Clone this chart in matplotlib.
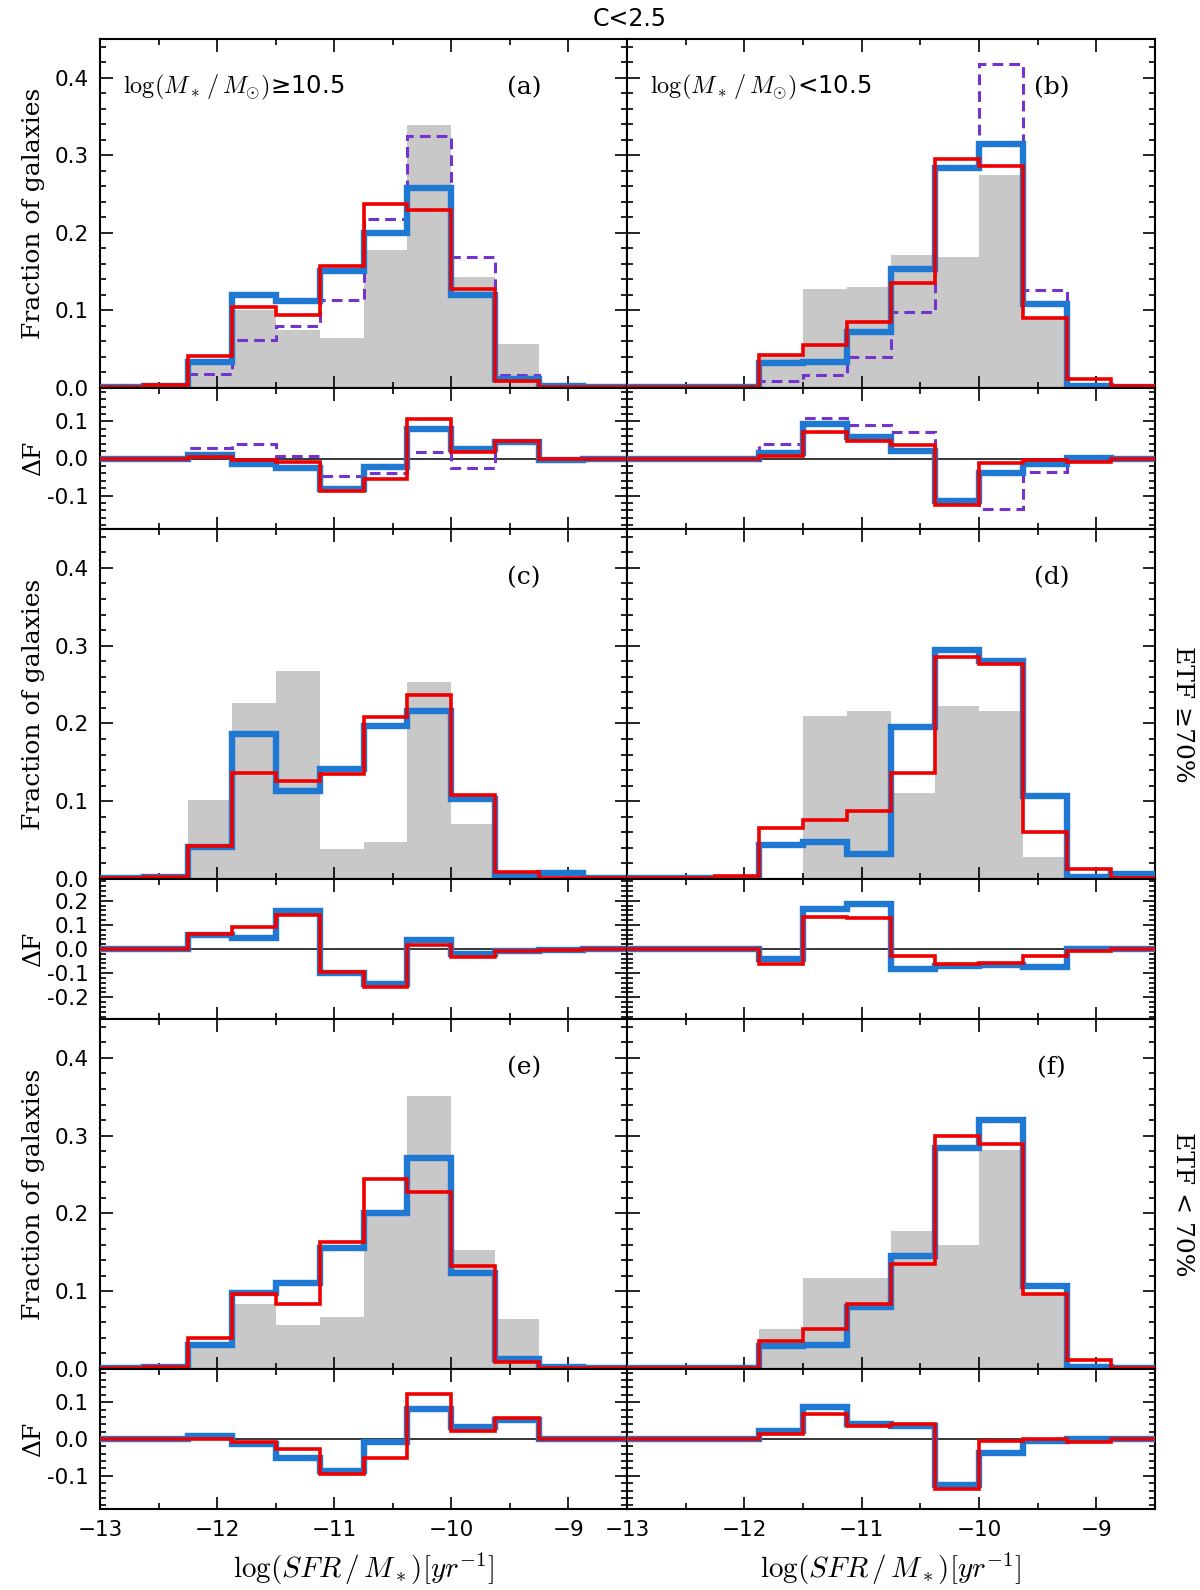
import numpy as np
import matplotlib
matplotlib.use('Agg')
import matplotlib.pyplot as plt
from matplotlib.ticker import MultipleLocator

# bin edges of log(SFR/M*)
edges = np.linspace(-13, -8.5, 13)

# panel (a): log M >= 10.5
gray_a = [0, 0, 0.030, 0.101, 0.075, 0.064, 0.178, 0.339, 0.143, 0.057, 0, 0]
blue_a = [0.001, 0.002, 0.033, 0.120, 0.112, 0.151, 0.200, 0.258, 0.120, 0.011, 0.003, 0.001]
red_a = [0.001, 0.004, 0.041, 0.105, 0.094, 0.157, 0.237, 0.230, 0.128, 0.009, 0.001, 0.001]
purple_a = [0, 0, 0.018, 0.062, 0.080, 0.113, 0.218, 0.325, 0.169, 0.017, 0, 0]
dblue_a = [0, 0, 0.009, -0.014, -0.025, -0.083, -0.022, 0.080, 0.026, 0.045, -0.003, 0]
dred_a = [0, 0, 0.004, -0.003, -0.009, -0.088, -0.056, 0.107, 0.018, 0.048, 0, 0]
dpurple_a = [0, 0, 0.027, 0.038, 0.006, -0.047, -0.038, 0.018, -0.025, 0.045, 0, 0]

# panel (b): log M < 10.5
gray_b = [0, 0, 0, 0.042, 0.128, 0.130, 0.171, 0.169, 0.275, 0.090, 0, 0]
blue_b = [0.001, 0.001, 0.001, 0.032, 0.034, 0.072, 0.154, 0.284, 0.314, 0.108, 0.003, 0.001]
red_b = [0.001, 0.001, 0.001, 0.042, 0.055, 0.085, 0.136, 0.295, 0.286, 0.090, 0.012, 0.002]
purple_b = [0, 0, 0, 0.009, 0.017, 0.040, 0.098, 0.286, 0.418, 0.126, 0.003, 0]
dblue_b = [0, 0, 0, 0.015, 0.093, 0.057, 0.020, -0.114, -0.038, -0.016, 0.002, 0]
dred_b = [0, 0, 0, 0.006, 0.071, 0.046, 0.036, -0.125, -0.012, -0.004, -0.009, 0]
dpurple_b = [0, 0, 0, 0.038, 0.109, 0.089, 0.071, -0.110, -0.137, -0.036, 0, 0]

# panel (c): ETF >= 70%, high mass
gray_c = [0, 0, 0.101, 0.226, 0.268, 0.039, 0.047, 0.253, 0.071, 0, 0, 0]
blue_c = [0.001, 0.002, 0.041, 0.186, 0.113, 0.141, 0.197, 0.216, 0.103, 0.004, 0.008, 0.001]
red_c = [0.001, 0.003, 0.043, 0.136, 0.126, 0.135, 0.208, 0.237, 0.108, 0.009, 0.001, 0.001]
dblue_c = [0, 0, 0.059, 0.046, 0.156, -0.099, -0.143, 0.036, -0.021, -0.007, -0.003, 0]
dred_c = [0, 0, 0.062, 0.090, 0.142, -0.095, -0.159, 0.018, -0.034, -0.010, -0.003, 0]

# panel (d): ETF >= 70%, low mass
gray_d = [0, 0, 0, 0, 0.210, 0.216, 0.111, 0.222, 0.216, 0.028, 0, 0]
blue_d = [0.001, 0.001, 0.001, 0.044, 0.048, 0.032, 0.196, 0.295, 0.280, 0.107, 0.003, 0.006]
red_d = [0.001, 0.001, 0.004, 0.065, 0.076, 0.088, 0.136, 0.285, 0.276, 0.060, 0.013, 0.001]
dblue_d = [0, 0, 0, -0.041, 0.166, 0.188, -0.081, -0.072, -0.068, -0.076, 0.001, 0]
dred_d = [0, 0, 0, -0.061, 0.132, 0.128, -0.028, -0.061, -0.058, -0.030, -0.007, 0]

# panel (e): ETF < 70%, high mass
gray_e = [0, 0, 0.028, 0.083, 0.057, 0.067, 0.197, 0.351, 0.153, 0.064, 0, 0]
blue_e = [0.001, 0.002, 0.031, 0.098, 0.111, 0.155, 0.201, 0.271, 0.124, 0.013, 0.003, 0.001]
red_e = [0.001, 0.003, 0.040, 0.096, 0.084, 0.163, 0.244, 0.227, 0.132, 0.009, 0.001, 0.001]
dblue_e = [0, 0, 0.007, -0.014, -0.051, -0.088, -0.009, 0.081, 0.032, 0.051, 0, 0]
dred_e = [0, 0, 0, -0.009, -0.028, -0.094, -0.051, 0.123, 0.023, 0.057, 0, 0]

# panel (f): ETF < 70%, low mass
gray_f = [0, 0, 0, 0.051, 0.117, 0.117, 0.178, 0.160, 0.282, 0.095, 0, 0]
blue_f = [0.001, 0.001, 0.001, 0.029, 0.031, 0.080, 0.145, 0.284, 0.320, 0.107, 0.003, 0.001]
red_f = [0.001, 0.001, 0.001, 0.036, 0.051, 0.084, 0.135, 0.299, 0.289, 0.096, 0.011, 0.001]
dblue_f = [0, 0, 0, 0.023, 0.088, 0.040, 0.034, -0.125, -0.037, -0.005, 0, 0]
dred_f = [0, 0, 0, 0.014, 0.068, 0.034, 0.040, -0.136, -0.006, 0, -0.007, 0]

letters = ['(a)', '(b)', '(c)', '(d)', '(e)', '(f)']
mass_labels = [r'$\log(M_*\,/\,M_{\odot})$' + '\u226510.5',
               r'$\log(M_*\,/\,M_{\odot})$' + '<10.5']
row_labels = ['', 'ETF \u226570%', 'ETF < 70%']

GRAY = '#c8c8c8'
BLUE = '#1f78d2'
RED = '#ee0000'
PURPLE = '#7433cc'

plt.rcParams['mathtext.fontset'] = 'cm'
plt.rcParams['font.family'] = 'DejaVu Sans'

W, H = 1200, 1590
fig = plt.figure(figsize=(12, 15.9), dpi=100)


def box(x0, x1, y0, y1):
    return [x0 / W, 1 - y1 / H, (x1 - x0) / W, (y1 - y0) / H]


def style(ax, ylo, yhi, ymaj, yminor, show_x, show_y):
    ax.set_xlim(-13, -8.5)
    ax.set_ylim(ylo, yhi)
    ax.xaxis.set_major_locator(MultipleLocator(1))
    ax.xaxis.set_minor_locator(MultipleLocator(0.5))
    ax.yaxis.set_major_locator(MultipleLocator(ymaj))
    ax.yaxis.set_minor_locator(MultipleLocator(yminor))
    ax.tick_params(which='both', direction='in', top=True, right=True,
                   labelsize=15.5, width=1.2)
    ax.tick_params(which='major', length=9, pad=8)
    ax.tick_params(which='minor', length=4.5)
    ax.tick_params(axis='y', labelleft=show_y)
    ax.tick_params(axis='x', labelbottom=show_x)
    if show_y:
        ax.yaxis.set_major_formatter(plt.FormatStrFormatter('%.1f'))
    for s in ax.spines.values():
        s.set_linewidth(1.5)


mains = [(gray_a, blue_a, red_a, purple_a), (gray_b, blue_b, red_b, purple_b),
         (gray_c, blue_c, red_c, None), (gray_d, blue_d, red_d, None),
         (gray_e, blue_e, red_e, None), (gray_f, blue_f, red_f, None)]
deltas = [(dblue_a, dred_a, dpurple_a), (dblue_b, dred_b, dpurple_b),
          (dblue_c, dred_c, None), (dblue_d, dred_d, None),
          (dblue_e, dred_e, None), (dblue_f, dred_f, None)]

cols = [(100, 627), (627, 1155)]
main_rows = [(39, 388), (529, 879), (1019, 1369)]
delta_rows = [(388, 529), (879, 1019), (1369, 1509)]
dlims = [0.19, 0.29, 0.19]

for i in range(6):
    r, c = divmod(i, 2)
    g, b, rd, p = mains[i]
    ax = fig.add_axes(box(cols[c][0], cols[c][1], main_rows[r][0], main_rows[r][1]))
    ax.stairs(g, edges, fill=True, color=GRAY, zorder=1)
    if p is not None:
        ax.stairs(p, edges, baseline=None, color=PURPLE, lw=2.2,
                  linestyle=(0, (3.5, 2)), zorder=2)
    ax.stairs(b, edges, baseline=None, color=BLUE, lw=4.6, zorder=3)
    ax.stairs(rd, edges, baseline=None, color=RED, lw=2.6, zorder=4)
    style(ax, 0, 0.45, 0.1, 0.02, False, c == 0)
    ax.text(-9.38, 0.387, letters[i], fontsize=18, family='DejaVu Serif',
            ha='center', va='center')
    if r == 0:
        ax.text(-12.8, 0.387, mass_labels[c], fontsize=17.5, ha='left', va='center')
    if c == 0:
        ax.set_ylabel('Fraction of galaxies', fontsize=18, family='DejaVu Serif')
        ax.yaxis.set_label_coords(-0.105, 0.5)

    db, dr, dp = deltas[i]
    dax = fig.add_axes(box(cols[c][0], cols[c][1], delta_rows[r][0], delta_rows[r][1]))
    dax.axhline(0, color='black', lw=1.1, zorder=1)
    if dp is not None:
        dax.stairs(dp, edges, baseline=None, color=PURPLE, lw=2.2,
                   linestyle=(0, (3.5, 2)), zorder=2)
    dax.stairs(db, edges, baseline=None, color=BLUE, lw=4.6, zorder=3)
    dax.stairs(dr, edges, baseline=None, color=RED, lw=2.6, zorder=4)
    style(dax, -dlims[r], dlims[r], 0.1, 0.02, r == 2, c == 0)
    if c == 0:
        dax.set_ylabel('\u0394F', fontsize=18, family='DejaVu Serif')
        dax.yaxis.set_label_coords(-0.105, 0.5)
    if r == 2:
        dax.set_xlabel(r'$\log(SFR\,/\,M_*)[yr^{-1}]$', fontsize=21, labelpad=8)

for r in (1, 2):
    yc = (main_rows[r][0] + main_rows[r][1]) / 2 + 10
    fig.text(1182 / W, 1 - yc / H, row_labels[r], rotation=270, fontsize=18,
             family='DejaVu Serif', ha='center', va='center')

fig.text(630 / W, 1 - 19 / H, 'C<2.5', fontsize=17, ha='center', va='center')

fig.savefig('out.png', dpi=100)
